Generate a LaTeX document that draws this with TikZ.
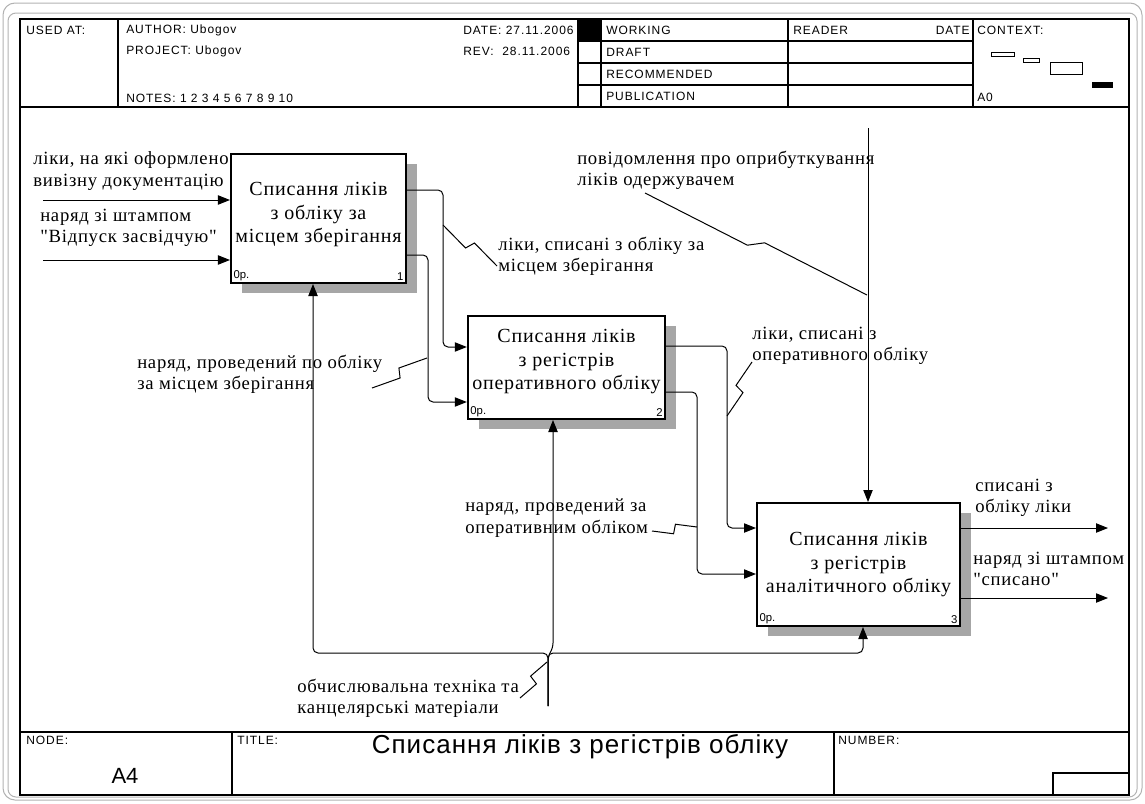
\documentclass[tikz,border=0pt]{standalone}
\usepackage{fontspec}
\setmainfont{Liberation Serif}
\newfontfamily\serifsp{Liberation Serif}[LetterSpace=4]
\newfontfamily\sanssp{Liberation Sans}[LetterSpace=8]
\newfontfamily\sanstitle{Liberation Sans}[LetterSpace=4]
\newfontfamily\sansfn{Liberation Sans}
\usetikzlibrary{arrows.meta,calc,shadows}

% squiggle from label to arrow
\newcommand{\zig}[2]{\draw[squig] (#1) -- ($(#1)!0.47!(#2)!3.5pt!-90:(#2)$)
  -- ($(#1)!0.53!(#2)!3.5pt!90:(#2)$) -- (#2);}
% activity name, lifted in its box by extra depth
\newcommand{\actname}[2]{\raisebox{0pt}[\height][\dimexpr\depth+#1\relax]{%
  \begin{tabular}{@{}c@{}}#2\end{tabular}}}

\begin{document}
\begin{tikzpicture}[
  x=0.75pt, y=-0.75pt,
  frame/.style={draw=black, line width=1pt},
  hdr/.style={font=\sanssp\fontsize{9}{10}\selectfont, anchor=west, inner sep=0pt},
  activity/.style={draw=black, line width=1.5pt, fill=white,
                   font=\serifsp\fontsize{15}{17.5}\selectfont,
                   general shadow={fill=black!35, shadow xshift=8.25pt, shadow yshift=-7.5pt}},
  corner/.style={font=\sansfn\fontsize{8.5}{9}\selectfont, inner sep=2.5pt},
  lbl/.style={font=\serifsp\fontsize{14}{16}\selectfont, align=left,
              anchor=west, inner sep=0pt},
  arrow/.style={-{Triangle[length=9pt,width=7pt]}, line width=0.75pt,
                rounded corners=3.75pt},
  squig/.style={line width=0.75pt}
]
  \useasboundingbox (0,0) rectangle (1145,803);

  % page frame
  \draw[gray!60, line width=0.75pt, rounded corners=9pt] (3,3) rectangle (1142,800);
  \draw[gray!60, line width=0.75pt, rounded corners=6pt] (8,13) rectangle (1137,797);
  \draw[frame] (20,19) rectangle (1129,795);
  \draw[frame] (20,107) -- (1129,107);
  \draw[frame] (20,732) -- (1129,732);
  \foreach \x in {118,578,601,788,973} \draw[frame] (\x,19) -- (\x,107);
  \foreach \y in {41,63,85} \draw[frame] (578,\y) -- (973,\y);
  \foreach \x in {232,834} \draw[frame] (\x,732) -- (\x,795);
  \draw[frame] (1053,795) |- (1129,773);

  % header
  \node[hdr] (usedat) at (26,30) {USED AT:};
  \node[hdr] (author) at (126,30) {AUTHOR: Ubogov};
  \node[hdr] (project) at (126,51) {PROJECT: Ubogov};
  \node[hdr] (notes) at (126,98) {NOTES: 1 2 3 4 5 6 7 8 9 10};
  \node[hdr] (date) at (463,30) {DATE: 27.11.2006};
  \node[hdr] (rev) at (463,51) {REV:\ \ 28.11.2006};
  \fill (578,19) rectangle (601,41);
  \node[hdr] (working) at (606,30) {WORKING};
  \node[hdr] (draft) at (606,52) {DRAFT};
  \node[hdr] (recommended) at (606,74) {RECOMMENDED};
  \node[hdr] (publication) at (606,96) {PUBLICATION};
  \node[hdr] (reader) at (793,30) {READER};
  \node[hdr, anchor=east] (rdate) at (970,30) {DATE};
  \node[hdr] (context) at (977,30) {CONTEXT:};
  \node[hdr] (azero) at (977,97) {A0};
  \draw[line width=0.75pt] (991,52) rectangle (1014,56);
  \draw[line width=0.75pt] (1023,58) rectangle (1039,62);
  \draw[line width=0.75pt] (1050,62) rectangle (1082,74);
  \fill (1092,82) rectangle (1113,88);

  % footer
  \node[hdr] (nodelbl) at (26,740) {NODE:};
  \node[font=\sansfn\fontsize{16.5}{18}\selectfont, inner sep=0pt] (nodeno) at (125,776) {A4};
  \node[hdr] (titlelbl) at (237,740) {TITLE:};
  \node[font=\sanstitle\fontsize{19.5}{21}\selectfont, inner sep=0pt] (title) at (580,747)
    {Списання ліків з регістрів обліку};
  \node[hdr] (numberlbl) at (838,740) {NUMBER:};

  % activities
  \node[activity, minimum width=128.25pt, minimum height=96.75pt,
        label={[corner, anchor=south west]south west:0p.},
        label={[corner, anchor=south east]south east:1}] (b1) at (318.5,218.5)
    {\actname{6pt}{Списання ліків\\з обліку за\\місцем зберігання}};
  \node[activity, minimum width=147.75pt, minimum height=77.25pt,
        label={[corner, anchor=south west]south west:0p.},
        label={[corner, anchor=south east]south east:2}] (b2) at (566.5,367.5)
    {\actname{9pt}{Списання ліків\\з регістрів\\оперативного обліку}};
  \node[activity, minimum width=152.25pt, minimum height=92.25pt,
        label={[corner, anchor=south west]south west:0p.},
        label={[corner, anchor=south east]south east:3}] (b3) at (858.5,564.5)
    {\actname{0pt}{Списання ліків\\з регістрів\\аналітичного обліку}};

  % inputs
  \coordinate (in1) at (43,200);
  \coordinate (in2) at (43,260);
  \draw[arrow] (in1) -- (in1 -| b1.west);
  \draw[arrow] (in2) -- (in2 -| b1.west);

  % flows between activities
  \draw[arrow] (b1.east |- 0,190) -| (443,347) -- (b2.west |- 0,347);
  \draw[arrow] (b1.east |- 0,255) -| (428,402) -- (b2.west |- 0,402);
  \draw[arrow] (b2.east |- 0,346) -| (727,528) -- (b3.west |- 0,528);
  \draw[arrow] (b2.east |- 0,392) -| (697,574) -- (b3.west |- 0,574);

  % outputs
  \coordinate (out1) at (1108,528);
  \coordinate (out2) at (1108,598);
  \draw[arrow] (out1 -| b3.east) -- (out1);
  \draw[arrow] (out2 -| b3.east) -- (out2);

  % control
  \coordinate (ctl) at (868,128);
  \draw[arrow] (ctl) -- (ctl |- b3.north);

  % mechanism
  \coordinate (src) at (548,706);
  \coordinate (bus1) at (313,653);
  \coordinate (bus2) at (553,648);
  \coordinate (bus3) at (863,653);
  \draw[arrow] (src) |- (bus1) -- (bus1 |- b1.south);
  \draw[arrow] (src) |- (bus3) -- (bus3 |- b3.south);
  \draw[arrow] (src) -- (548,656) -- (bus2) -- (bus2 |- b2.south);

  % labels
  \node[lbl] (l1) at (33,171) {ліки, на які оформлено\\вивізну документацію};
  \node[lbl] (l2) at (40,228) {наряд зі штампом\\"Відпуск засвідчую"};
  \node[lbl] (l3) at (498,256) {ліки, списані з обліку за\\місцем зберігання};
  \node[lbl] (l4) at (577,170) {повідомлення про оприбуткування\\ліків одержувачем};
  \node[lbl] (l5) at (137,374) {наряд, проведений по обліку\\за місцем зберігання};
  \node[lbl] (l6) at (752,346) {ліки, списані з\\оперативного обліку};
  \node[lbl] (l7) at (465,518) {наряд, проведений за\\оперативним обліком};
  \node[lbl] (l8) at (975,498) {списані з\\обліку ліки};
  \node[lbl] (l9) at (973,569) {наряд зі штампом\\"списано"};
  \node[lbl] (l10) at (297,698) {обчислювальна техніка та\\канцелярські матеріали};

  % squiggles
  \coordinate (s3a) at (443,225); \coordinate (s3b) at (497,266);
  \coordinate (s4a) at (645,193); \coordinate (s4b) at (867,295);
  \coordinate (s5a) at (372,388); \coordinate (s5b) at (427,358);
  \coordinate (s6a) at (727,416); \coordinate (s6b) at (752,362);
  \coordinate (s7a) at (652,531); \coordinate (s7b) at (697,527);
  \coordinate (s10a) at (520,698); \coordinate (s10b) at (547,662);
  \zig{s3a}{s3b}
  \zig{s4a}{s4b}
  \zig{s5a}{s5b}
  \zig{s6a}{s6b}
  \zig{s7a}{s7b}
  \zig{s10a}{s10b}
\end{tikzpicture}
\end{document}
